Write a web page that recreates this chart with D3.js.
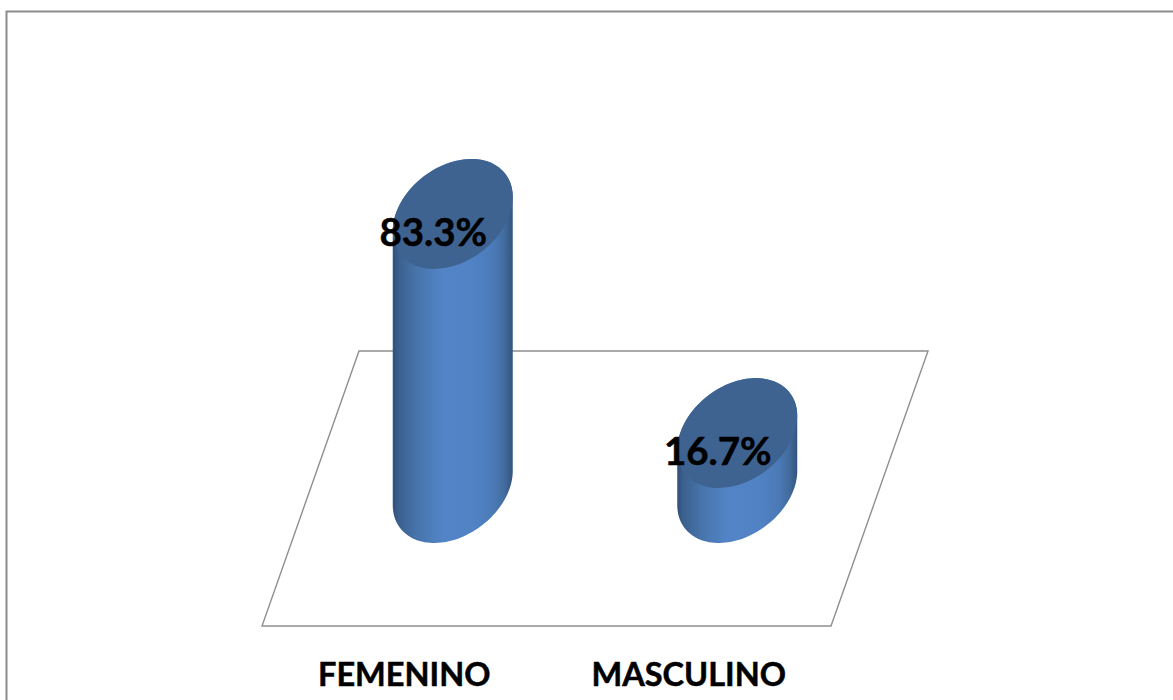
<!DOCTYPE html>
<html>
<head>
<meta charset="utf-8">
<script src="https://cdn.jsdelivr.net/npm/d3@7"></script>
<style>
  html, body { margin: 0; padding: 0; background: #fff; overflow: hidden; }
  svg { display: block; }
  text { font-family: Lato, "Open Sans", sans-serif; font-weight: 700; fill: #000; stroke: #000; stroke-width: 0.5px; }
</style>
</head>
<body>
<script>
// Sex distribution shown as 3D-style cylinders standing on a sheared floor.
const categories = ["FEMENINO", "MASCULINO"];
const percentages = [83.3, 16.7];
const valueLabels = ["83.3%", "16.7%"];

const width = 1173, height = 700;

const floor = { left: 262, right: 831, front: 626, back: 351, depth: 97 };
const x = d3.scaleBand().domain(categories).range([floor.left, floor.right]);
const y = d3.scaleLinear().domain([0, 100]).range([488, 159]);

const radiusX = 60;           // half width of a cylinder
const tiltY = -17;            // vertical shift of the ellipse's right extreme
const radiusY = 52.3;

const svg = d3.select("body").append("svg")
  .attr("width", width).attr("height", height);

const grad = svg.append("defs").append("linearGradient")
  .attr("id", "cylinderBody").attr("x1", 0).attr("x2", 1).attr("y1", 0).attr("y2", 0);
[[0, "#31507a"], [0.05, "#3b608e"], [0.2, "#4774ab"], [0.42, "#5284c7"],
 [0.68, "#5082c4"], [0.84, "#4b7ab6"], [0.93, "#426c9e"], [1, "#34547d"]].forEach(([o, c]) =>
  grad.append("stop").attr("offset", o).attr("stop-color", c));

// Chart frame: only the top and left edges fall inside the page.
svg.append("path")
  .attr("d", `M6.5,${height}V11.5H${width}`)
  .attr("fill", "none").attr("stroke", "#8c8c8c").attr("stroke-width", 2);

// Floor plane
svg.append("path")
  .attr("d", d3.line()([
    [floor.left + floor.depth, floor.back], [floor.right + floor.depth, floor.back],
    [floor.right, floor.front], [floor.left, floor.front]]) + "Z")
  .attr("fill", "none").attr("stroke", "#8f8f8f").attr("stroke-width", 1.4);

// Point on a tilted end-cap ellipse for angle t
const ellipsePoint = (cx, cy, t) => [
  cx + radiusX * Math.cos(t),
  cy + tiltY * Math.cos(t) + radiusY * Math.sin(t)
];
const angles = d3.range(0, 65).map(i => i / 64 * Math.PI);

const bars = svg.selectAll("g.bar").data(categories).join("g").attr("class", "bar");

bars.each(function (c, i) {
  const g = d3.select(this);
  const cx = x(c) + x.bandwidth() / 2 + floor.depth / 2;
  const yBase = y(0);
  const yTop = y(percentages[i]);

  // Silhouette: lower half of the base, then the upper half of the top cap
  const lower = angles.map(t => ellipsePoint(cx, yBase, t));
  const upper = angles.map(t => ellipsePoint(cx, yTop, t + Math.PI));
  g.append("path")
    .attr("d", d3.line()(lower.concat(upper)) + "Z")
    .attr("fill", "url(#cylinderBody)");

  // Top cap
  g.append("ellipse")
    .attr("rx", 1).attr("ry", 1)
    .attr("transform", `matrix(${radiusX},${tiltY},0,${radiusY},${cx},${yTop})`)
    .attr("fill", "#3e6391");

  g.append("text")
    .attr("x", cx - 19.5).attr("y", yTop + 32)
    .attr("text-anchor", "middle").attr("font-size", 38.5)
    .text(valueLabels[i]);

  g.append("text")
    .attr("x", x(c) + x.bandwidth() / 2).attr("y", 686)
    .attr("text-anchor", "middle").attr("font-size", 32.5)
    .text(c);
});
</script>
</body>
</html>
